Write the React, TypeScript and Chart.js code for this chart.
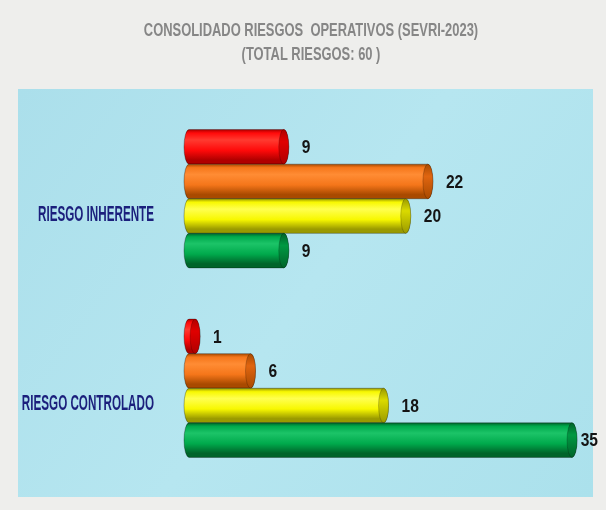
import React, { useEffect, useRef } from "react";
import { Chart, registerables } from "chart.js";

Chart.register(...registerables);

const categories = ["RIESGO INHERENTE", "RIESGO CONTROLADO"];
const seriesNames = ["Extremo", "Alto", "Moderado", "Bajo"];
const extremo = [9, 1];
const alto = [22, 6];
const moderado = [20, 18];
const bajo = [9, 35];
const titleLines = ["CONSOLIDADO RIESGOS  OPERATIVOS (SEVRI-2023)", "(TOTAL RIESGOS: 60 )"];

const palette = [
  { light: "#ff3a30", mid: "#ff0a0a", dark: "#b00000", cap: "#e00000" },
  { light: "#ff8c34", mid: "#f5761a", dark: "#a94a00", cap: "#e06510" },
  { light: "#ffff50", mid: "#f8f800", dark: "#9a9a00", cap: "#dada00" },
  { light: "#1cc468", mid: "#00aa4c", dark: "#00642a", cap: "#009842" },
];

const FONT = "'Liberation Sans', Arial, sans-serif";

function drawScaledText(ctx: any, text: string, x: number, y: number, sx: number, align: string) {
  ctx.save();
  ctx.translate(x, y);
  ctx.scale(sx, 1);
  ctx.textAlign = align;
  ctx.textBaseline = "middle";
  ctx.fillText(text, 0, 0);
  ctx.restore();
}

const cylinderPlugin = {
  id: "cylinders",
  beforeDraw(chart: any) {
    const { ctx } = chart;
    ctx.save();
    ctx.fillStyle = "#eeeeec";
    ctx.fillRect(0, 0, chart.width, chart.height);
    const g = ctx.createLinearGradient(18, 89, 593, 497);
    g.addColorStop(0, "#abdfeb");
    g.addColorStop(0.5, "#b6e6f0");
    g.addColorStop(1, "#abe1ec");
    ctx.fillStyle = g;
    ctx.fillRect(18, 89, 575, 408);
    ctx.restore();
  },
  afterDatasetsDraw(chart: any) {
    const { ctx } = chart;
    ctx.save();
    chart.data.datasets.forEach((ds: any, di: number) => {
      const meta = chart.getDatasetMeta(di);
      const c = palette[di];
      meta.data.forEach((bar: any, i: number) => {
        const x0 = bar.base;
        const x1 = bar.x;
        const h = bar.height;
        const yT = bar.y - h / 2;
        const rx = 5;
        const ry = h / 2;
        const gr = ctx.createLinearGradient(0, yT, 0, yT + h);
        gr.addColorStop(0, c.dark);
        gr.addColorStop(0.1, c.mid);
        gr.addColorStop(0.3, c.light);
        gr.addColorStop(0.6, c.mid);
        gr.addColorStop(0.88, c.dark);
        gr.addColorStop(1, c.dark);
        ctx.fillStyle = gr;
        ctx.beginPath();
        ctx.moveTo(x0 + rx, yT);
        ctx.lineTo(x1, yT);
        ctx.ellipse(x1, bar.y, rx, ry, 0, -Math.PI / 2, Math.PI / 2);
        ctx.lineTo(x0 + rx, yT + h);
        ctx.ellipse(x0 + rx, bar.y, rx, ry, 0, Math.PI / 2, (3 * Math.PI) / 2);
        ctx.closePath();
        ctx.fill();
        ctx.strokeStyle = "rgba(0,0,0,0.3)";
        ctx.lineWidth = 1;
        ctx.stroke();
        const cg = ctx.createLinearGradient(0, yT, 0, yT + h);
        cg.addColorStop(0, c.dark);
        cg.addColorStop(0.35, c.cap);
        cg.addColorStop(1, c.dark);
        ctx.fillStyle = cg;
        ctx.beginPath();
        ctx.ellipse(x1, bar.y, rx, ry, 0, 0, Math.PI * 2);
        ctx.fill();
        ctx.strokeStyle = "rgba(0,0,0,0.2)";
        ctx.stroke();
        const v = ds.data[i];
        ctx.font = "bold 19px " + FONT;
        ctx.fillStyle = "#141414";
        const txt = String(v);
        const sx = 0.82;
        const tw = ctx.measureText(txt).width * sx;
        let lx = x1 + rx + 13;
        if (lx + tw > chart.width - 8) lx = chart.width - 8 - tw;
        drawScaledText(ctx, txt, lx, bar.y + 1, sx, "left");
      });
    });
    ctx.restore();
  },
  afterDraw(chart: any) {
    const { ctx } = chart;
    ctx.save();
    ctx.fillStyle = "#868686";
    ctx.font = "bold 19px " + FONT;
    drawScaledText(ctx, titleLines[0], 311, 31, 0.68, "center");
    drawScaledText(ctx, titleLines[1], 311, 55, 0.68, "center");
    const ys = chart.scales.y;
    ctx.fillStyle = "#1b1f7c";
    ctx.font = "bold 22px " + FONT;
    chart.data.labels.forEach((lab: string, i: number) => {
      drawScaledText(ctx, lab, ys.right - 30, ys.getPixelForTick(i) + 16, 0.53, "right");
    });
    ctx.restore();
  },
};

export default function App() {
  const ref = useRef<HTMLCanvasElement>(null);
  useEffect(() => {
    if (!ref.current) return;
    const mk = (name: string, data: number[]) => ({
      label: name,
      data,
      backgroundColor: "rgba(0,0,0,0)",
      borderWidth: 0,
      categoryPercentage: 0.73,
      barPercentage: 1,
    });
    const chart = new Chart(ref.current, {
      type: "bar",
      data: {
        labels: categories,
        datasets: [
          mk(seriesNames[0], extremo),
          mk(seriesNames[1], alto),
          mk(seriesNames[2], moderado),
          mk(seriesNames[3], bajo),
        ],
      },
      options: {
        indexAxis: "y",
        animation: false,
        responsive: false,
        maintainAspectRatio: false,
        layout: { padding: { left: 0, right: 34, top: 104, bottom: 27 } },
        plugins: {
          legend: { display: false },
          tooltip: { enabled: false },
          title: { display: false },
        },
        scales: {
          x: { display: false, min: 0, max: 35 },
          y: {
            grid: { display: false },
            border: { display: false },
            afterFit: (s: any) => {
              s.width = 184;
            },
            ticks: { display: false },
          },
        },
      },
      plugins: [cylinderPlugin],
    });
    return () => chart.destroy();
  }, []);
  return (
    <div style={{ position: "fixed", left: 0, top: 0, width: 606, height: 510 }}>
      <canvas ref={ref} width={606} height={510} />
    </div>
  );
}
